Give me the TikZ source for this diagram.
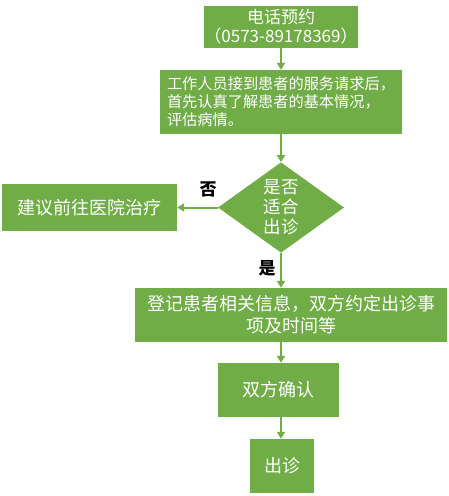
\documentclass[tikz,border=0pt]{standalone}
\usepackage{fontspec}
\newfontfamily\cjk{Noto Sans CJK SC}
\usetikzlibrary{shapes.geometric,arrows.meta}
\definecolor{og}{HTML}{70AD47}
\tikzset{
  box/.style={draw=none,fill=og,text=white,inner sep=0pt,align=center,font=\cjk\fontsize{18}{21}\selectfont},
  arr/.style={draw=og,line width=2pt,-{Triangle[length=7pt,width=8pt]}},
  lab/.style={text=black,font=\cjk\bfseries\fontsize{17}{18}\selectfont}
}
\begin{document}
\begin{tikzpicture}[x=1pt,y=-1pt]
\useasboundingbox (0,0) rectangle (449,496);
\node[box,minimum width=152pt,minimum height=42pt,font=\cjk\fontsize{17}{19}\selectfont] (b1) at (281,27) {电话预约\\（0573-89178369）};
\node[box,minimum width=242pt,minimum height=64pt,align=left,font=\cjk\fontsize{15.2}{18}\selectfont] (b2) at (281,102) {工作人员接到患者的服务请求后，\\首先认真了解患者的基本情况，\\评估病情。};
\node[box,diamond,minimum width=126pt,minimum height=85pt,font=\cjk\fontsize{17.5}{20}\selectfont] (d) at (281,207.5) {是否\\适合\\出诊};
\node[box,minimum width=175pt,minimum height=47pt] (l) at (89.5,207.5) {建议前往医院治疗};
\node[box,minimum width=312pt,minimum height=54pt,font=\cjk\fontsize{18}{22}\selectfont] (b3) at (291,315) {登记患者相关信息，双方约定出诊事\\项及时间等};
\node[box,minimum width=121pt,minimum height=54pt] (b4) at (278.5,390) {双方确认};
\node[box,minimum width=64pt,minimum height=54pt] (b5) at (282,466) {出诊};
\draw[arr] (b1.south -| d) -- (b2.north -| d);
\draw[arr] (b2.south -| d) -- (d.north);
\draw[arr] (d.west) -- (l.east);
\draw[arr] (d.south) -- (b3.north -| d);
\draw[arr] (b3.south -| d) -- (b4.north -| d);
\draw[arr] (b4.south -| d) -- (b5.north -| d);
\node[lab] (no) at (208,189) {否};
\node[lab] (yes) at (267,268) {是};
\end{tikzpicture}
\end{document}
